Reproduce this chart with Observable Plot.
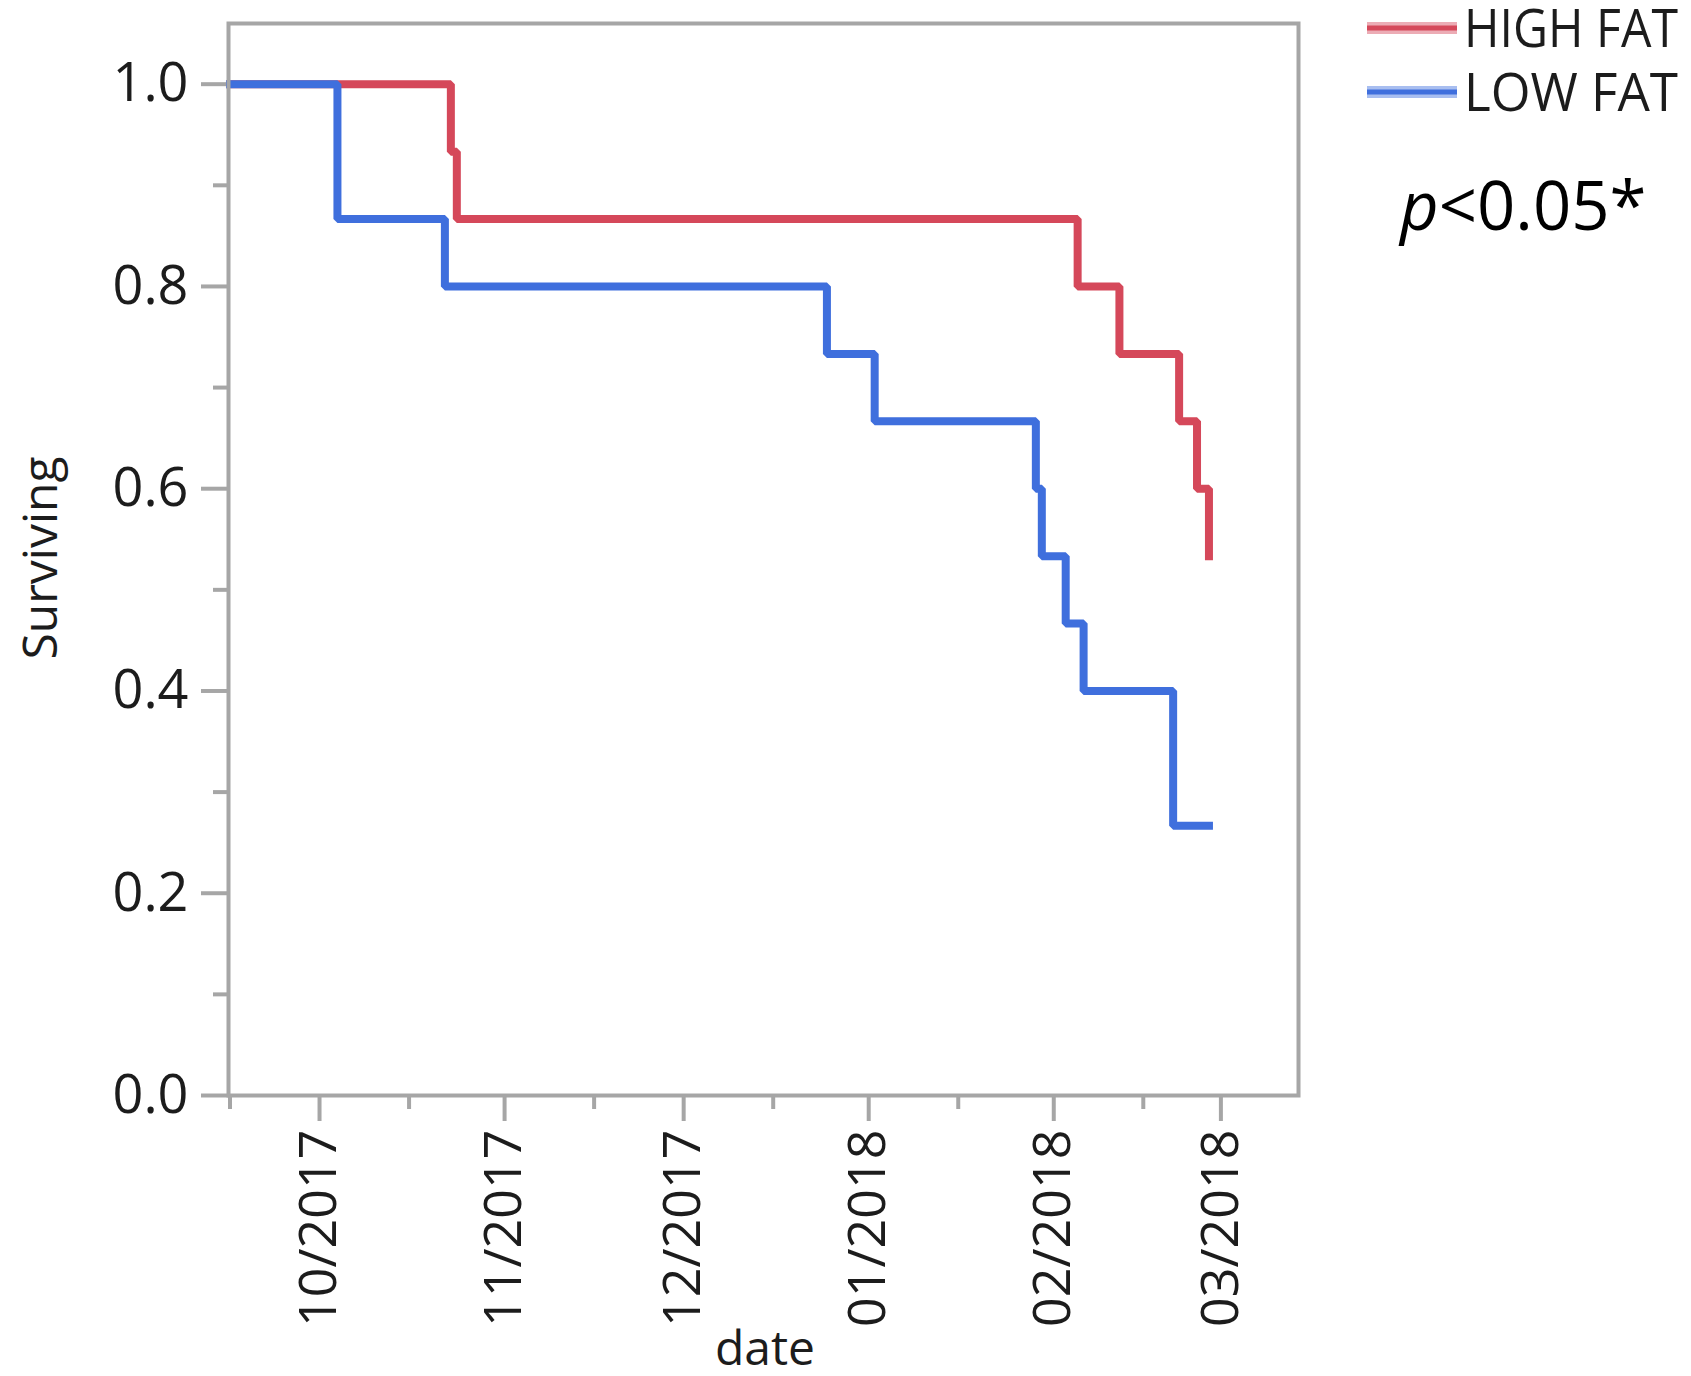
<!DOCTYPE html>
<html><head><meta charset="utf-8">
<script src="https://cdn.jsdelivr.net/npm/d3@7"></script>
<script src="https://cdn.jsdelivr.net/npm/@observablehq/plot@0.6"></script>
<style>
html,body{margin:0;padding:0;background:#fff;}
#chart svg{display:block;}
</style></head><body><div id="chart"></div>
<script>
// ---- data ----
const groups = ["HIGH FAT", "LOW FAT"];
const groupColors = ["#d5485a", "#3f6fdd"];
const highFatDates = ["2017-09-16","2017-10-23","2017-10-24","2018-02-05","2018-02-12","2018-02-22","2018-02-25","2018-02-27"];
const highFatSurv  = [1.0, 0.9333, 0.8667, 0.8, 0.7333, 0.6667, 0.6, 0.5333];
const lowFatDates  = ["2017-09-16","2017-10-04","2017-10-22","2017-12-25","2018-01-02","2018-01-29","2018-01-30","2018-02-03","2018-02-06","2018-02-21","2018-02-27"];
const lowFatSurv   = [1.0, 0.8667, 0.8, 0.7333, 0.6667, 0.6, 0.5333, 0.4667, 0.4, 0.2667, 0.2667];
const xMajorTicks = ["2017-10-01","2017-11-01","2017-12-01","2018-01-01","2018-02-01","2018-03-01"];
const xMinorTicks = ["2017-09-16","2017-10-16","2017-11-16","2017-12-16","2018-01-16","2018-02-16"];
const yMajorTicks = [0, 0.2, 0.4, 0.6, 0.8, 1.0];
const yMinorTicks = [0.1, 0.3, 0.5, 0.7, 0.9];
const xDomain = ["2017-09-15T18:00:00Z", "2018-03-14T00:00:00Z"];
const yDomain = [0, 1.06];
const xLabel = "date";
const yLabel = "Surviving";
const pLabelItalic = "p";
const pLabelRest = "<0.05*";

// ---- build table ----
const rows = [
  ...highFatDates.map((d, i) => ({date: new Date(d), surv: highFatSurv[i], group: groups[0]})),
  ...lowFatDates.map((d, i) => ({date: new Date(d), surv: lowFatSurv[i], group: groups[1]}))
];

const W = 1691, H = 1376;
const axisGray = "#a6a6a6";
const textColor = "#1c1c1c";
const font = "'Open Sans', 'Noto Sans', sans-serif";

const chart = Plot.plot({
  width: W, height: H,
  marginLeft: 228, marginRight: 393, marginTop: 23, marginBottom: 281,
  style: {fontFamily: font, fontSize: "54px", color: textColor, background: "#fff", overflow: "visible"},
  x: {type: "utc", domain: xDomain.map(d => new Date(d)), label: null},
  y: {domain: yDomain, label: null},
  color: {domain: groups, range: groupColors},
  marks: [
    Plot.axisY(yMajorTicks, {tickSize: 27, tickPadding: 13, tickFormat: d3.format(".1f"),
      stroke: axisGray, strokeWidth: 4, fill: textColor, fontSize: 54, label: null}),
    Plot.axisY(yMinorTicks, {tickSize: 15, tickFormat: () => "", stroke: axisGray, strokeWidth: 4, label: null}),
    Plot.axisX(xMajorTicks.map(d => new Date(d)), {tickSize: 26, tickPadding: 8, tickRotate: -90,
      tickFormat: d3.utcFormat("%m/%Y"), stroke: axisGray, strokeWidth: 4, fill: textColor, fontSize: 52, label: null}),
    Plot.axisX(xMinorTicks.map(d => new Date(d)), {tickSize: 14, tickFormat: () => "", stroke: axisGray, strokeWidth: 4, label: null}),
    Plot.line(rows, {x: "date", y: "surv", z: "group", stroke: "group", curve: "step-after",
      strokeWidth: 8, strokeLinecap: "square", strokeLinejoin: "miter"}),
    Plot.frame({stroke: axisGray, strokeWidth: 4})
  ]
});
document.getElementById("chart").appendChild(chart);

// ---- axis titles, legend and annotation ----
const svg = d3.select(chart);
const g = svg.append("g").attr("font-family", font).attr("fill", textColor).attr("text-anchor", "start");

g.append("text").attr("x", 765).attr("y", 1365).attr("text-anchor", "middle")
  .attr("font-size", 48).text(xLabel);
g.append("text").attr("transform", "translate(57,558) rotate(-90)").attr("text-anchor", "middle")
  .attr("font-size", 48).text(yLabel);

const legend = g.append("g");
groups.forEach((name, i) => {
  const yLine = [28, 92][i];
  legend.append("line").attr("x1", 1367).attr("x2", 1457).attr("y1", yLine).attr("y2", yLine)
    .attr("stroke", groupColors[i]).attr("stroke-width", 12).attr("stroke-opacity", 0.45);
  legend.append("line").attr("x1", 1367).attr("x2", 1457).attr("y1", yLine).attr("y2", yLine)
    .attr("stroke", groupColors[i]).attr("stroke-width", 5);
  legend.append("text").attr("x", 1464).attr("y", yLine + 19).attr("font-size", 53)
    .attr("text-anchor", "start").attr("textLength", 214).attr("lengthAdjust", "spacingAndGlyphs").text(name);
});

const p = g.append("text").attr("x", 1400).attr("y", 230).attr("font-size", 67).attr("fill", "#000")
  .attr("text-anchor", "start");
p.append("tspan").attr("font-style", "italic").text(pLabelItalic);
p.append("tspan").text(pLabelRest);
</script>
</body></html>
